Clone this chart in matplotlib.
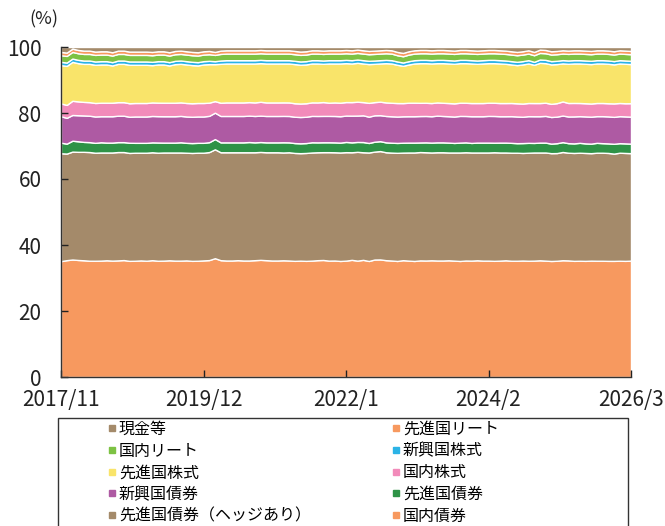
import matplotlib
matplotlib.use("Agg")
import matplotlib.pyplot as plt
from matplotlib.lines import Line2D
from matplotlib.patches import Rectangle
import numpy as np
import pandas as pd

plt.rcParams['font.family'] = ['Noto Sans CJK JP', 'DejaVu Sans']

# monthly, 2017/11 .. 2026/3
months = pd.date_range("2017-11-01", "2026-03-01", freq="MS")
tick_labels = ["2017/11", "2019/12", "2022/1", "2024/2", "2026/3"]

# shares (%), bottom layer first
jp_bond = [
    35.1, 35.3, 35.6, 35.5, 35.3, 35.2, 35.3, 35.3, 35.4, 35.3,
    35.3, 35.4, 35.3, 35.3, 35.4, 35.3, 35.4, 35.3, 35.3, 35.4,
    35.3, 35.3, 35.4, 35.3, 35.3, 35.4, 35.5, 36.0, 35.4, 35.3,
    35.3, 35.4, 35.3, 35.3, 35.4, 35.5, 35.4, 35.3, 35.3, 35.4,
    35.3, 35.3, 35.4, 35.3, 35.3, 35.4, 35.5, 35.3, 35.3, 35.2,
    35.3, 35.5, 35.3, 35.5, 35.3, 35.6, 35.7, 35.4, 35.3, 35.2,
    35.4, 35.3, 35.2, 35.3, 35.3, 35.4, 35.3, 35.3, 35.4, 35.3,
    35.2, 35.3, 35.3, 35.4, 35.3, 35.3, 35.2, 35.3, 35.4, 35.3,
    35.3, 35.4, 35.3, 35.3, 35.4, 35.3, 35.3, 35.4, 35.6, 35.4,
    35.3, 35.3, 35.3, 35.4, 35.3, 35.3, 35.3, 35.4, 35.3, 35.3, 35.4]
dev_bond_hedged = [
    32.7, 32.2, 32.7, 32.8, 32.8, 32.9, 32.8, 32.8, 32.7, 32.8,
    32.8, 32.7, 32.8, 32.8, 32.7, 32.8, 32.7, 32.8, 32.8, 32.7,
    32.8, 32.8, 32.7, 32.8, 32.8, 32.7, 32.8, 33.0, 32.7, 32.8,
    32.8, 32.7, 32.8, 32.8, 32.7, 32.7, 32.7, 32.8, 32.8, 32.7,
    32.8, 32.8, 32.7, 32.8, 32.8, 32.7, 32.7, 32.9, 32.8, 32.9,
    32.9, 32.6, 33.0, 32.6, 33.0, 32.7, 32.9, 32.7, 32.7, 32.8,
    32.6, 32.8, 32.9, 32.8, 32.8, 32.7, 32.8, 32.8, 32.7, 32.8,
    32.9, 32.8, 32.8, 32.7, 32.8, 32.8, 32.9, 32.8, 32.7, 32.8,
    32.8, 32.7, 32.8, 32.8, 32.7, 32.8, 32.8, 32.8, 33.0, 32.7,
    32.8, 32.8, 32.8, 32.7, 32.8, 32.8, 32.8, 32.7, 32.8, 32.8, 32.7]
dev_bond = [
    3.2, 3.0, 3.3, 3.2, 3.0, 3.0, 3.0, 3.1, 3.0, 3.0,
    3.0, 3.0, 3.1, 3.0, 3.0, 3.0, 3.0, 3.1, 3.0, 3.0,
    3.0, 3.1, 3.0, 3.0, 3.0, 3.0, 3.0, 3.1, 3.0, 3.0,
    3.0, 3.0, 3.0, 3.1, 3.0, 3.0, 3.0, 3.0, 3.0, 3.1,
    3.0, 3.0, 3.0, 3.0, 3.1, 3.0, 3.0, 3.0, 3.0, 3.0,
    3.1, 3.0, 3.0, 3.1, 2.9, 3.0, 3.0, 3.0, 3.0, 3.0,
    3.0, 3.0, 3.0, 2.9, 3.0, 3.0, 3.0, 3.0, 3.0, 2.9,
    3.0, 3.0, 2.9, 3.0, 3.0, 3.0, 2.9, 3.0, 3.0, 3.0,
    2.9, 3.0, 3.0, 2.9, 3.0, 3.0, 2.9, 3.0, 3.0, 2.9,
    2.9, 3.0, 2.9, 2.9, 3.0, 2.9, 2.9, 3.0, 2.9, 2.9, 2.9]
em_bond = [
    8.0, 7.8, 7.8, 7.9, 8.0, 8.0, 8.0, 7.9, 8.0, 8.0,
    8.0, 8.0, 7.9, 8.0, 8.0, 8.0, 8.0, 8.0, 8.0, 8.0,
    8.0, 8.0, 8.0, 8.0, 8.0, 8.0, 8.0, 8.0, 8.0, 8.0,
    8.0, 8.0, 8.0, 8.0, 8.0, 8.0, 8.0, 8.0, 8.0, 8.0,
    8.0, 8.0, 8.0, 8.0, 8.0, 8.0, 8.0, 8.0, 8.0, 8.0,
    8.0, 8.1, 8.0, 8.1, 8.0, 8.0, 7.9, 8.0, 8.0, 8.0,
    8.0, 8.0, 8.0, 8.0, 8.0, 8.0, 8.1, 8.0, 8.0, 8.0,
    8.1, 8.0, 8.1, 8.0, 8.0, 8.1, 8.1, 8.0, 8.0, 8.1,
    8.1, 8.0, 8.1, 8.1, 8.0, 8.1, 8.1, 8.1, 8.1, 8.1,
    8.2, 8.1, 8.2, 8.2, 8.1, 8.2, 8.2, 8.2, 8.2, 8.2, 8.2]
jp_stock = [
    3.9, 3.9, 4.3, 4.2, 4.1, 4.1, 4.1, 4.1, 4.1, 4.1,
    4.1, 4.1, 4.1, 4.1, 4.1, 4.1, 4.1, 4.1, 4.1, 4.1,
    4.1, 4.1, 4.1, 4.1, 4.1, 4.1, 4.0, 3.5, 4.0, 4.1,
    4.1, 4.1, 4.1, 4.1, 4.1, 4.2, 4.1, 4.1, 4.1, 4.1,
    4.1, 4.1, 4.1, 4.1, 4.1, 4.1, 4.2, 4.0, 4.1, 4.1,
    4.1, 4.1, 4.2, 4.0, 4.2, 4.0, 4.1, 4.1, 4.1, 4.1,
    4.0, 4.1, 4.1, 4.0, 4.0, 4.0, 4.0, 4.0, 4.0, 4.0,
    4.0, 4.0, 4.0, 4.0, 4.0, 4.0, 4.0, 4.0, 4.0, 4.0,
    4.0, 4.0, 4.0, 4.0, 4.0, 4.0, 4.0, 4.1, 4.3, 4.1,
    4.1, 4.0, 4.0, 4.0, 4.0, 4.0, 4.0, 4.1, 4.0, 4.0, 4.1]
dev_stock = [
    11.6, 11.8, 11.8, 11.6, 11.5, 11.6, 11.6, 11.6, 11.6, 11.3,
    11.6, 11.6, 11.7, 11.6, 11.6, 11.6, 11.3, 11.6, 11.6, 11.3,
    11.7, 11.7, 11.7, 11.6, 11.4, 11.7, 11.7, 11.2, 11.8, 11.8,
    11.8, 11.8, 11.8, 11.7, 11.8, 11.7, 11.8, 11.8, 11.8, 11.8,
    11.8, 11.9, 11.8, 11.8, 11.8, 11.8, 11.6, 11.9, 11.8, 11.9,
    11.8, 11.7, 11.8, 11.7, 11.8, 11.6, 11.6, 11.9, 11.9, 11.6,
    11.3, 11.6, 11.9, 12.0, 12.0, 12.0, 11.9, 12.0, 12.0, 12.0,
    12.0, 12.0, 12.0, 11.9, 12.0, 12.0, 12.0, 12.0, 11.9, 11.7,
    11.6, 11.9, 12.0, 11.6, 12.2, 12.0, 12.0, 11.9, 11.6, 11.9,
    12.0, 12.0, 12.0, 12.0, 12.0, 12.0, 12.0, 11.9, 12.0, 12.0, 11.9]
em_stock = [
    1.0, 1.0, 1.0, 1.0, 1.0, 1.0, 1.0, 1.0, 1.0, 1.0,
    1.0, 1.0, 1.0, 1.0, 1.0, 1.0, 1.0, 1.0, 1.0, 1.0,
    1.0, 1.0, 1.0, 1.0, 1.0, 1.0, 1.0, 0.9, 1.0, 1.0,
    1.0, 1.0, 1.0, 1.0, 1.0, 1.0, 1.0, 1.0, 1.0, 1.0,
    1.0, 1.0, 1.0, 1.0, 1.0, 1.0, 1.0, 1.0, 1.0, 1.0,
    1.0, 1.0, 1.0, 1.0, 1.0, 1.0, 1.0, 1.0, 1.0, 1.0,
    1.0, 1.0, 1.0, 1.0, 1.0, 1.0, 1.0, 1.0, 1.0, 1.0,
    1.0, 1.0, 1.0, 1.0, 1.0, 1.0, 1.0, 1.0, 1.0, 1.0,
    1.0, 1.0, 1.0, 0.9, 1.0, 1.0, 1.0, 1.0, 1.0, 1.0,
    1.0, 1.0, 1.0, 1.0, 1.0, 1.0, 1.0, 1.0, 1.0, 1.0, 1.0]
jp_reit = [
    2.0, 2.0, 2.0, 2.0, 2.0, 2.0, 2.0, 2.0, 2.0, 2.0,
    2.0, 2.0, 2.0, 2.0, 2.0, 2.0, 2.0, 2.0, 2.0, 2.0,
    2.0, 2.0, 2.0, 2.0, 2.0, 2.0, 2.0, 1.9, 2.0, 2.0,
    2.0, 2.0, 2.0, 2.0, 2.0, 2.0, 2.0, 2.0, 2.0, 2.0,
    2.0, 2.0, 2.0, 2.0, 2.0, 2.0, 2.0, 2.0, 2.0, 2.0,
    2.0, 2.0, 2.0, 2.0, 2.0, 2.0, 2.0, 2.0, 2.0, 1.9,
    1.9, 2.0, 2.0, 2.0, 2.0, 2.0, 2.0, 2.0, 2.0, 2.0,
    2.0, 2.0, 2.0, 2.0, 2.0, 2.0, 2.0, 2.0, 2.0, 2.0,
    2.0, 2.0, 2.0, 2.0, 2.0, 2.0, 2.0, 2.0, 2.0, 2.0,
    2.0, 2.0, 2.0, 2.0, 2.0, 2.0, 2.0, 2.0, 2.0, 2.0, 2.0]
dev_reit = [
    1.0, 1.0, 1.0, 1.0, 1.0, 1.0, 1.0, 1.0, 1.0, 1.0,
    1.0, 1.0, 1.0, 1.0, 1.0, 1.0, 1.0, 1.0, 1.0, 1.0,
    1.0, 1.0, 1.0, 1.0, 1.0, 1.0, 1.0, 0.9, 1.0, 1.0,
    1.0, 1.0, 1.0, 1.0, 1.0, 1.0, 1.0, 1.0, 1.0, 1.0,
    1.0, 1.0, 1.0, 1.0, 1.0, 1.0, 1.0, 1.0, 1.0, 1.0,
    1.0, 1.0, 1.0, 1.0, 1.0, 1.0, 1.0, 1.0, 1.0, 1.0,
    1.0, 1.0, 1.0, 1.0, 1.0, 1.0, 1.0, 1.0, 1.0, 1.0,
    1.0, 1.0, 1.0, 1.0, 1.0, 1.0, 1.0, 1.0, 1.0, 1.0,
    1.0, 1.0, 1.0, 1.0, 1.0, 1.0, 1.0, 1.0, 1.0, 1.0,
    1.0, 1.0, 1.0, 1.0, 1.0, 1.0, 1.0, 1.0, 1.0, 1.0, 1.0]
cash = [
    1.5, 1.7, 0.5, 0.9, 1.1, 1.1, 1.4, 1.3, 1.3, 1.6,
    1.1, 1.1, 1.4, 1.4, 1.4, 1.4, 1.5, 1.3, 1.3, 1.6,
    1.2, 1.1, 1.3, 1.5, 1.6, 1.3, 1.2, 1.5, 1.1, 1.0,
    1.0, 1.0, 1.0, 1.0, 1.0, 0.9, 1.0, 1.0, 1.0, 1.0,
    1.0, 1.2, 1.4, 1.3, 1.0, 1.0, 1.1, 1.0, 1.0, 1.0,
    0.9, 1.0, 0.8, 1.0, 1.2, 1.1, 1.0, 0.9, 1.0, 1.5,
    1.8, 1.3, 1.0, 0.9, 0.9, 1.0, 0.9, 0.9, 1.0, 1.1,
    0.9, 0.9, 1.0, 1.1, 1.0, 0.9, 0.9, 1.0, 1.1, 1.3,
    1.5, 1.3, 1.0, 1.5, 0.8, 0.9, 1.3, 1.2, 1.0, 1.1,
    1.0, 1.0, 1.1, 1.2, 1.0, 1.0, 1.1, 1.3, 1.0, 1.1, 1.2]

series = [jp_bond, dev_bond_hedged, dev_bond, em_bond, jp_stock,
          dev_stock, em_stock, jp_reit, dev_reit, cash]
names = ["国内債券", "先進国債券（ヘッジあり）", "先進国債券", "新興国債券", "国内株式",
         "先進国株式", "新興国株式", "国内リート", "先進国リート", "現金等"]
colors = ["#f7995f", "#a48a6a", "#2e9347", "#ae5aa3", "#f28bba",
          "#f9e46a", "#2bb3e6", "#7dc243", "#f7995f", "#a48a6a"]

# 100% composition
data = np.array(series, dtype=float)
data = data / data.sum(axis=0) * 100
x = np.arange(len(months))

fig = plt.figure(figsize=(6.65, 5.26), dpi=100)
ax = fig.add_axes([61 / 665, 1 - 377 / 526, 570 / 665, 330 / 526])
ax.stackplot(x, *data, colors=colors, edgecolor="white", linewidth=1.0)

ax.set_xlim(0, len(months) - 1)
ax.set_ylim(0, 100)
ax.set_yticks([0, 20, 40, 60, 80, 100])
ax.set_xticks([0, 25, 50, 75, 100])
ax.set_xticklabels(tick_labels)
ax.tick_params(axis="y", direction="in", length=5, width=1, labelsize=15,
               colors="#222222", pad=14)
ax.tick_params(axis="x", direction="in", length=5, width=1, labelsize=15,
               colors="#222222", pad=9)
for s in ["top", "right"]:
    ax.spines[s].set_visible(False)
for s in ["left", "bottom"]:
    ax.spines[s].set_color("#333333")
    ax.spines[s].set_linewidth(1)

fig.text(44 / 665, 1 - 19 / 526, "(%)", fontsize=13, ha="center", va="center", color="#222222")

# legend: row order = top layer first, two per row
order = [9, 7, 5, 3, 1, 8, 6, 4, 2, 0]
handles = [Line2D([], [], marker="s", linestyle="", color=colors[i], markersize=5) for i in order]
labels = [names[i] for i in order]
fig.patches.append(Rectangle((58 / 665, -0.2), 570 / 665, 0.2 + 1 - 418 / 526,
                             transform=fig.transFigure, fill=False,
                             edgecolor="#333333", linewidth=1))
fig.legend(handles, labels, ncol=2, loc="upper left",
           bbox_to_anchor=(107 / 665, 1 - 421 / 526), frameon=False,
           fontsize=11.5, handlelength=0.6, handletextpad=0.15,
           labelspacing=0.29, columnspacing=5.0, borderpad=0, borderaxespad=0)

fig.savefig("out.png", dpi=100)
